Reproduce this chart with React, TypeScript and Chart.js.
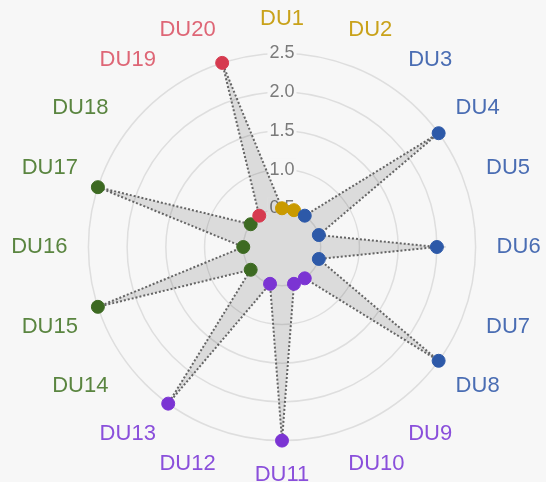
import React, { useEffect, useRef } from "react";
import { Chart, registerables } from "chart.js";

Chart.register(...registerables);

const categories = ["DU1","DU2","DU3","DU4","DU5","DU6","DU7","DU8","DU9","DU10","DU11","DU12","DU13","DU14","DU15","DU16","DU17","DU18","DU19","DU20"];
const values = [0.5,0.5,0.5,2.5,0.5,2.0,0.5,2.5,0.5,0.5,2.5,0.5,2.5,0.5,2.5,0.5,2.5,0.5,0.5,2.5];
const groups = ["y","y","b","b","b","b","b","b","p","p","p","p","p","g","g","g","g","g","r","r"];
const tickValues = [0.5, 1.0, 1.5, 2.0, 2.5];

const pointColors: Record<string, string> = {
  y: "#c99a00",
  b: "#2d59a8",
  p: "#7b34d3",
  g: "#3d6a22",
  r: "#d63a4f",
};
const labelColors: Record<string, string> = {
  y: "#c9a21a",
  b: "#4a6db3",
  p: "#8a4fdb",
  g: "#5a8540",
  r: "#de6676",
};

export default function App() {
  const ref = useRef<HTMLCanvasElement | null>(null);
  useEffect(() => {
    if (!ref.current) return;
    const chart = new Chart(ref.current, {
      type: "radar",
      data: {
        labels: categories,
        datasets: [
          {
            data: values,
            backgroundColor: "rgba(0,0,0,0.11)",
            borderColor: "rgba(85,85,85,0.9)",
            borderWidth: 2,
            borderDash: [2, 2],
            pointBackgroundColor: groups.map((g) => pointColors[g]),
            pointBorderColor: groups.map((g) => pointColors[g]),
            pointRadius: 6.5,
            pointBorderWidth: 1,
            fill: true,
          },
        ],
      },
      options: {
        responsive: false,
        animation: false,
        plugins: { legend: { display: false }, tooltip: { enabled: false } },
        layout: { padding: 0 },
        scales: {
          r: {
            min: 0,
            max: 2.5,
            beginAtZero: true,
            afterBuildTicks: (axis: any) => {
              axis.ticks = [0, ...tickValues].map((v) => ({ value: v }));
            },
            angleLines: { display: false },
            grid: { color: "#dedede", lineWidth: 1.5, circular: true },
            ticks: {
              stepSize: 0.5,
              color: "#7a7a7a",
              backdropColor: "#f7f7f7",
              font: { size: 18, family: "'Liberation Sans', Arial, sans-serif" },
              callback: (v: any) => Number(v).toFixed(1),
            },
            pointLabels: {
              padding: 10,
              color: groups.map((g) => labelColors[g]),
              font: { size: 22, family: "'Liberation Sans', Arial, sans-serif" },
            },
          },
        },
      },
    });
    return () => chart.destroy();
  }, []);
  return (
    <div style={{ position: "fixed", left: 0, top: 0, width: 546, height: 482, background: "#f7f7f7", overflow: "hidden" }}>
      <canvas ref={ref} width={546} height={482} style={{ display: "block", position: "absolute", left: 3, top: 6 }} />
    </div>
  );
}
